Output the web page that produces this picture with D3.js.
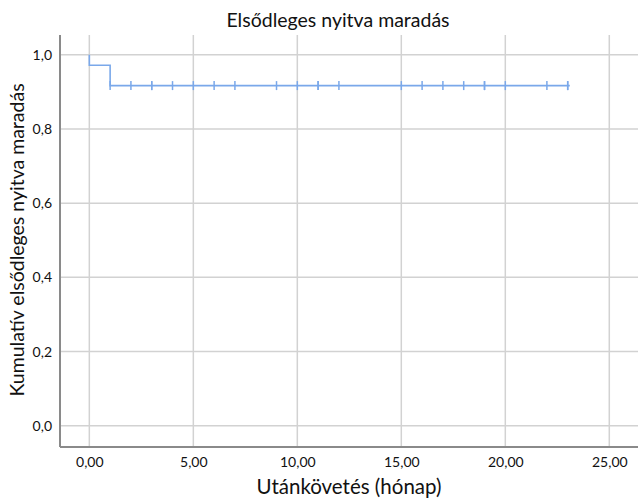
<!DOCTYPE html>
<html><head><meta charset="utf-8">
<script src="https://cdn.jsdelivr.net/npm/d3@7"></script>
<style>body{margin:0;background:#fff}svg{display:block}text{font-family:Lato,"Open Sans",sans-serif;fill:#111}</style>
</head><body>
<script>
const title = "Elsődleges nyitva maradás";
const xTitle = "Utánkövetés (hónap)";
const yTitle = "Kumulatív elsődleges nyitva maradás";
const xTicks = [0, 5, 10, 15, 20, 25];
const yTicks = [0, 0.2, 0.4, 0.6, 0.8, 1.0];
// Kaplan-Meier step curve
const stepTimes = [0, 0, 1, 1, 23.1];
const stepSurv  = [1.0, 0.972, 0.972, 0.917, 0.917];
// censored observations (time in months)
const censorTimes = [1, 2, 3, 3, 4, 5, 6, 7, 9, 10, 11, 11, 12, 15, 16, 17, 18, 19, 19, 20, 22, 23, 23];
const censorSurv = 0.917;

const W = 638, H = 499;
const svg = d3.select("body").append("svg").attr("width", W).attr("height", H);
const L = 60, R = 638, T = 35, B = 447;
const x = d3.scaleLinear().domain([-1.41, 26.38]).range([L, R]);
const y = d3.scaleLinear().domain([-0.0574, 1.0534]).range([B, T]);

const fmtX = d => d3.format(".2f")(d).replace(".", ",");
const fmtY = d => d3.format(".1f")(d).replace(".", ",");

// gridlines
const grid = svg.append("g").attr("stroke", "#d2d2d2").attr("stroke-width", 1.5);
grid.selectAll("line.v").data(xTicks).join("line").attr("class","v")
  .attr("x1", d => x(d)).attr("x2", d => x(d)).attr("y1", T).attr("y2", B);
grid.selectAll("line.h").data(yTicks).join("line").attr("class","h")
  .attr("x1", L).attr("x2", R).attr("y1", d => y(d)).attr("y2", d => y(d));

// axes
const xAxis = svg.append("g").attr("transform", `translate(0,${B})`)
  .call(d3.axisBottom(x).tickValues(xTicks).tickFormat(fmtX).tickSize(0).tickPadding(10));
const yAxis = svg.append("g").attr("transform", `translate(${L},0)`)
  .call(d3.axisLeft(y).tickValues(yTicks).tickFormat(fmtY).tickSize(0).tickPadding(8));
[xAxis, yAxis].forEach(a => {
  a.select(".domain").attr("stroke", "#8a8a8a").attr("stroke-width", 2);
  a.selectAll("text").style("font-size", "14px").attr("fill", "#111");
});
xAxis.select(".domain").attr("d", `M${L},0H${R}`);
yAxis.select(".domain").attr("d", `M0,${T}V${B}`);

// KM curve
const pts = stepTimes.map((t, i) => [t, stepSurv[i]]);
svg.append("path").datum(pts)
  .attr("fill", "none").attr("stroke", "#7aa8ea").attr("stroke-width", 1.6)
  .attr("d", d3.line().x(d => x(d[0])).y(d => y(d[1])));
svg.append("g").attr("stroke", "#7aa8ea").attr("stroke-width", 1.5)
  .selectAll("line").data(censorTimes).join("line")
  .attr("x1", d => x(d)).attr("x2", d => x(d))
  .attr("y1", y(censorSurv) - 4.5).attr("y2", y(censorSurv) + 4.5);

// titles
svg.append("text").attr("x", 338).attr("y", 27).attr("text-anchor", "middle")
  .style("font-size", "19.5px").text(title);
svg.append("text").attr("x", 349).attr("y", 494).attr("text-anchor", "middle")
  .style("font-size", "20.5px").text(xTitle);
svg.append("text").attr("transform", `translate(24,240) rotate(-90)`).attr("text-anchor", "middle")
  .style("font-size", "19.5px").text(yTitle);
</script>
</body></html>
